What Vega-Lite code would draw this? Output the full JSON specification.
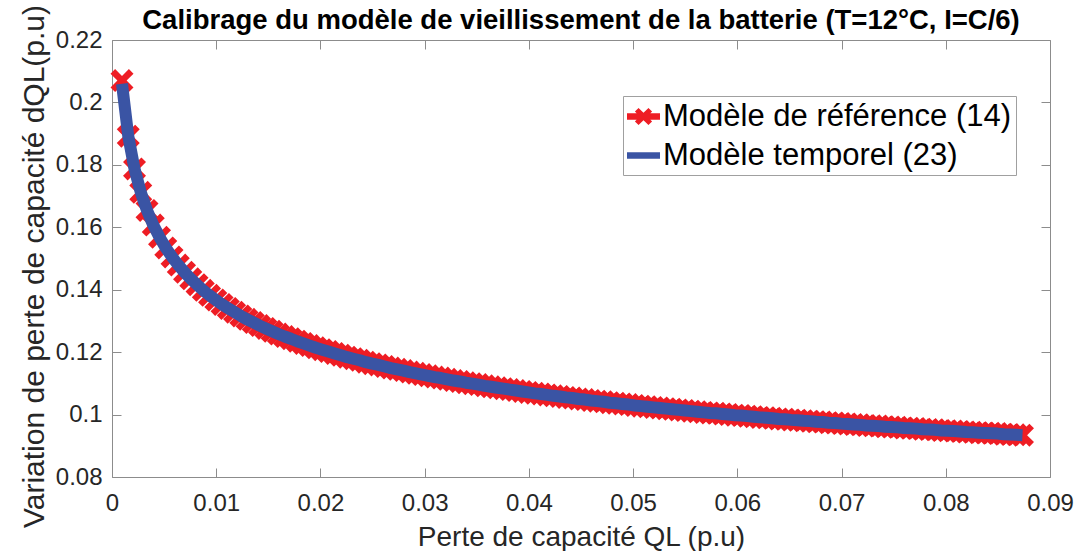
{
  "$schema": "https://vega.github.io/schema/vega-lite/v6.json",
  "width": 938,
  "height": 437,
  "autosize": {"type": "none"},
  "padding": {"left": 112, "top": 40, "right": 28, "bottom": 74},
  "background": "white",
  "config": {"view": {"stroke": null}, "font": "Liberation Sans"},
  "title": {
    "text": "Calibrage du modèle de vieillissement de la batterie (T=12°C, I=C/6)",
    "font": "Liberation Sans",
    "fontWeight": "bold",
    "fontSize": 27.5,
    "color": "#000000",
    "anchor": "middle",
    "baseline": "bottom",
    "offset": 7,
    "dy": 65
  },
  "data": {
    "values": [
      {"q": 0.00096, "ref": 0.2070, "tmp": 0.2060},
      {"q": 0.00156, "ref": 0.1892, "tmp": 0.1892},
      {"q": 0.00216, "ref": 0.1787, "tmp": 0.1787},
      {"q": 0.00276, "ref": 0.1712, "tmp": 0.1712},
      {"q": 0.00336, "ref": 0.1654, "tmp": 0.1654},
      {"q": 0.00396, "ref": 0.1607, "tmp": 0.1607},
      {"q": 0.00456, "ref": 0.1568, "tmp": 0.1568},
      {"q": 0.00516, "ref": 0.1534, "tmp": 0.1534},
      {"q": 0.00576, "ref": 0.1505, "tmp": 0.1505},
      {"q": 0.00636, "ref": 0.1479, "tmp": 0.1479},
      {"q": 0.00696, "ref": 0.1456, "tmp": 0.1456},
      {"q": 0.00756, "ref": 0.1435, "tmp": 0.1435},
      {"q": 0.00816, "ref": 0.1416, "tmp": 0.1416},
      {"q": 0.00876, "ref": 0.1398, "tmp": 0.1398},
      {"q": 0.00936, "ref": 0.1382, "tmp": 0.1382},
      {"q": 0.00996, "ref": 0.1367, "tmp": 0.1367},
      {"q": 0.01056, "ref": 0.1353, "tmp": 0.1353},
      {"q": 0.01116, "ref": 0.1340, "tmp": 0.1340},
      {"q": 0.01176, "ref": 0.1328, "tmp": 0.1328},
      {"q": 0.01236, "ref": 0.1316, "tmp": 0.1316},
      {"q": 0.01296, "ref": 0.1305, "tmp": 0.1305},
      {"q": 0.01356, "ref": 0.1295, "tmp": 0.1295},
      {"q": 0.01416, "ref": 0.1285, "tmp": 0.1285},
      {"q": 0.01476, "ref": 0.1276, "tmp": 0.1276},
      {"q": 0.01536, "ref": 0.1267, "tmp": 0.1267},
      {"q": 0.01596, "ref": 0.1258, "tmp": 0.1258},
      {"q": 0.01656, "ref": 0.1250, "tmp": 0.1250},
      {"q": 0.01716, "ref": 0.1243, "tmp": 0.1243},
      {"q": 0.01776, "ref": 0.1235, "tmp": 0.1235},
      {"q": 0.01836, "ref": 0.1228, "tmp": 0.1228},
      {"q": 0.01896, "ref": 0.1221, "tmp": 0.1221},
      {"q": 0.01956, "ref": 0.1214, "tmp": 0.1214},
      {"q": 0.02016, "ref": 0.1208, "tmp": 0.1208},
      {"q": 0.02076, "ref": 0.1202, "tmp": 0.1202},
      {"q": 0.02136, "ref": 0.1196, "tmp": 0.1196},
      {"q": 0.02196, "ref": 0.1190, "tmp": 0.1190},
      {"q": 0.02256, "ref": 0.1184, "tmp": 0.1184},
      {"q": 0.02316, "ref": 0.1179, "tmp": 0.1179},
      {"q": 0.02376, "ref": 0.1174, "tmp": 0.1174},
      {"q": 0.02436, "ref": 0.1168, "tmp": 0.1168},
      {"q": 0.02496, "ref": 0.1163, "tmp": 0.1163},
      {"q": 0.02556, "ref": 0.1159, "tmp": 0.1159},
      {"q": 0.02616, "ref": 0.1154, "tmp": 0.1154},
      {"q": 0.02676, "ref": 0.1149, "tmp": 0.1149},
      {"q": 0.02736, "ref": 0.1145, "tmp": 0.1145},
      {"q": 0.02796, "ref": 0.1141, "tmp": 0.1141},
      {"q": 0.02856, "ref": 0.1136, "tmp": 0.1136},
      {"q": 0.02916, "ref": 0.1132, "tmp": 0.1132},
      {"q": 0.02976, "ref": 0.1128, "tmp": 0.1128},
      {"q": 0.03036, "ref": 0.1124, "tmp": 0.1124},
      {"q": 0.03096, "ref": 0.1120, "tmp": 0.1120},
      {"q": 0.03156, "ref": 0.1117, "tmp": 0.1117},
      {"q": 0.03216, "ref": 0.1113, "tmp": 0.1113},
      {"q": 0.03276, "ref": 0.1109, "tmp": 0.1109},
      {"q": 0.03336, "ref": 0.1106, "tmp": 0.1106},
      {"q": 0.03396, "ref": 0.1102, "tmp": 0.1102},
      {"q": 0.03456, "ref": 0.1099, "tmp": 0.1099},
      {"q": 0.03516, "ref": 0.1096, "tmp": 0.1096},
      {"q": 0.03576, "ref": 0.1092, "tmp": 0.1092},
      {"q": 0.03636, "ref": 0.1089, "tmp": 0.1089},
      {"q": 0.03696, "ref": 0.1086, "tmp": 0.1086},
      {"q": 0.03756, "ref": 0.1083, "tmp": 0.1083},
      {"q": 0.03816, "ref": 0.1080, "tmp": 0.1080},
      {"q": 0.03876, "ref": 0.1077, "tmp": 0.1077},
      {"q": 0.03936, "ref": 0.1074, "tmp": 0.1074},
      {"q": 0.03996, "ref": 0.1071, "tmp": 0.1071},
      {"q": 0.04056, "ref": 0.1068, "tmp": 0.1068},
      {"q": 0.04116, "ref": 0.1066, "tmp": 0.1066},
      {"q": 0.04176, "ref": 0.1063, "tmp": 0.1063},
      {"q": 0.04236, "ref": 0.1060, "tmp": 0.1060},
      {"q": 0.04296, "ref": 0.1058, "tmp": 0.1058},
      {"q": 0.04356, "ref": 0.1055, "tmp": 0.1055},
      {"q": 0.04416, "ref": 0.1053, "tmp": 0.1053},
      {"q": 0.04476, "ref": 0.1050, "tmp": 0.1050},
      {"q": 0.04536, "ref": 0.1048, "tmp": 0.1048},
      {"q": 0.04596, "ref": 0.1045, "tmp": 0.1045},
      {"q": 0.04656, "ref": 0.1043, "tmp": 0.1043},
      {"q": 0.04716, "ref": 0.1041, "tmp": 0.1041},
      {"q": 0.04776, "ref": 0.1038, "tmp": 0.1038},
      {"q": 0.04836, "ref": 0.1036, "tmp": 0.1036},
      {"q": 0.04896, "ref": 0.1034, "tmp": 0.1034},
      {"q": 0.04956, "ref": 0.1032, "tmp": 0.1032},
      {"q": 0.05016, "ref": 0.1029, "tmp": 0.1029},
      {"q": 0.05076, "ref": 0.1027, "tmp": 0.1027},
      {"q": 0.05136, "ref": 0.1025, "tmp": 0.1025},
      {"q": 0.05196, "ref": 0.1023, "tmp": 0.1023},
      {"q": 0.05256, "ref": 0.1021, "tmp": 0.1021},
      {"q": 0.05316, "ref": 0.1019, "tmp": 0.1019},
      {"q": 0.05376, "ref": 0.1017, "tmp": 0.1017},
      {"q": 0.05436, "ref": 0.1015, "tmp": 0.1015},
      {"q": 0.05496, "ref": 0.1013, "tmp": 0.1013},
      {"q": 0.05556, "ref": 0.1011, "tmp": 0.1011},
      {"q": 0.05616, "ref": 0.1009, "tmp": 0.1009},
      {"q": 0.05676, "ref": 0.1007, "tmp": 0.1007},
      {"q": 0.05736, "ref": 0.1005, "tmp": 0.1005},
      {"q": 0.05796, "ref": 0.1004, "tmp": 0.1004},
      {"q": 0.05856, "ref": 0.1002, "tmp": 0.1002},
      {"q": 0.05916, "ref": 0.1000, "tmp": 0.1000},
      {"q": 0.05976, "ref": 0.0998, "tmp": 0.0998},
      {"q": 0.06036, "ref": 0.0997, "tmp": 0.0997},
      {"q": 0.06096, "ref": 0.0995, "tmp": 0.0995},
      {"q": 0.06156, "ref": 0.0993, "tmp": 0.0993},
      {"q": 0.06216, "ref": 0.0991, "tmp": 0.0991},
      {"q": 0.06276, "ref": 0.0990, "tmp": 0.0990},
      {"q": 0.06336, "ref": 0.0988, "tmp": 0.0988},
      {"q": 0.06396, "ref": 0.0986, "tmp": 0.0986},
      {"q": 0.06456, "ref": 0.0985, "tmp": 0.0985},
      {"q": 0.06516, "ref": 0.0983, "tmp": 0.0983},
      {"q": 0.06576, "ref": 0.0982, "tmp": 0.0982},
      {"q": 0.06636, "ref": 0.0980, "tmp": 0.0980},
      {"q": 0.06696, "ref": 0.0979, "tmp": 0.0979},
      {"q": 0.06756, "ref": 0.0977, "tmp": 0.0977},
      {"q": 0.06816, "ref": 0.0976, "tmp": 0.0976},
      {"q": 0.06876, "ref": 0.0974, "tmp": 0.0974},
      {"q": 0.06936, "ref": 0.0973, "tmp": 0.0973},
      {"q": 0.06996, "ref": 0.0971, "tmp": 0.0971},
      {"q": 0.07056, "ref": 0.0970, "tmp": 0.0970},
      {"q": 0.07116, "ref": 0.0968, "tmp": 0.0968},
      {"q": 0.07176, "ref": 0.0967, "tmp": 0.0967},
      {"q": 0.07236, "ref": 0.0965, "tmp": 0.0965},
      {"q": 0.07296, "ref": 0.0964, "tmp": 0.0964},
      {"q": 0.07356, "ref": 0.0963, "tmp": 0.0963},
      {"q": 0.07416, "ref": 0.0961, "tmp": 0.0961},
      {"q": 0.07476, "ref": 0.0960, "tmp": 0.0960},
      {"q": 0.07536, "ref": 0.0959, "tmp": 0.0959},
      {"q": 0.07596, "ref": 0.0957, "tmp": 0.0957},
      {"q": 0.07656, "ref": 0.0956, "tmp": 0.0956},
      {"q": 0.07716, "ref": 0.0955, "tmp": 0.0955},
      {"q": 0.07776, "ref": 0.0953, "tmp": 0.0953},
      {"q": 0.07836, "ref": 0.0952, "tmp": 0.0952},
      {"q": 0.07896, "ref": 0.0951, "tmp": 0.0951},
      {"q": 0.07956, "ref": 0.0949, "tmp": 0.0949},
      {"q": 0.08016, "ref": 0.0948, "tmp": 0.0948},
      {"q": 0.08076, "ref": 0.0947, "tmp": 0.0947},
      {"q": 0.08136, "ref": 0.0946, "tmp": 0.0946},
      {"q": 0.08196, "ref": 0.0944, "tmp": 0.0944},
      {"q": 0.08256, "ref": 0.0943, "tmp": 0.0943},
      {"q": 0.08316, "ref": 0.0942, "tmp": 0.0942},
      {"q": 0.08376, "ref": 0.0941, "tmp": 0.0941},
      {"q": 0.08436, "ref": 0.0940, "tmp": 0.0940},
      {"q": 0.08496, "ref": 0.0939, "tmp": 0.0939},
      {"q": 0.08556, "ref": 0.0937, "tmp": 0.0937},
      {"q": 0.08616, "ref": 0.0936, "tmp": 0.0936},
      {"q": 0.08676, "ref": 0.0935, "tmp": 0.0935},
      {"q": 0.08736, "ref": 0.0934, "tmp": 0.0934}
    ]
  },
  "resolve": {"axis": {"x": "independent", "y": "independent"}},
  "layer": [
    {
      "mark": {
        "type": "point",
        "shape": "M-1,-0.6L-0.6,-1L0,-0.4L0.6,-1L1,-0.6L0.4,0L1,0.6L0.6,1L0,0.4L-0.6,1L-1,0.6L-0.4,0Z",
        "filled": true,
        "size": 529,
        "opacity": 1,
        "strokeWidth": 0
      },
      "encoding": {
        "x": {
          "field": "q",
          "type": "quantitative",
          "scale": {"domain": [0, 0.09], "nice": false, "zero": false},
          "axis": {
            "orient": "bottom",
            "values": [0, 0.01, 0.02, 0.03, 0.04, 0.05, 0.06, 0.07, 0.08, 0.09],
            "format": "~g",
            "grid": false,
            "tickSize": -9,
            "labelPadding": 23,
            "labelFlush": false,
            "labelOverlap": false,
            "labelFontSize": 24,
            "labelColor": "#262626",
            "domainColor": "#8c8c8c",
            "tickColor": "#8c8c8c",
            "title": "Perte de capacité QL (p.u)",
            "titleFontSize": 28,
            "titleFontWeight": "normal",
            "titleColor": "#262626",
            "titlePadding": 8
          }
        },
        "y": {
          "field": "ref",
          "type": "quantitative",
          "scale": {"domain": [0.08, 0.22], "nice": false, "zero": false},
          "axis": {
            "orient": "left",
            "values": [0.08, 0.1, 0.12, 0.14, 0.16, 0.18, 0.2, 0.22],
            "format": "~g",
            "grid": false,
            "tickSize": -9,
            "labelPadding": 19,
            "labelFlush": false,
            "labelOverlap": false,
            "labelFontSize": 24,
            "labelColor": "#262626",
            "domainColor": "#8c8c8c",
            "tickColor": "#8c8c8c",
            "title": "Variation de perte de capacité dQL(p.u)",
            "titleFontSize": 30,
            "titleFontWeight": "normal",
            "titleColor": "#262626",
            "titlePadding": 6,
            "titleY": 226
          }
        },
        "color": {
          "datum": "Modèle de référence (14)",
          "type": "nominal",
          "scale": {
            "domain": ["Modèle de référence (14)", "Modèle temporel (23)"],
            "range": ["#EE1D24", "#3A54A4"]
          },
          "legend": {
            "title": null,
            "orient": "none",
            "legendX": 511,
            "legendY": 56,
            "direction": "vertical",
            "fillColor": "#ffffff",
            "strokeColor": "#a0a0a0",
            "padding": 4,
            "rowPadding": 7,
            "labelOffset": 3,
            "labelFont": "Liberation Sans",
            "labelFontSize": 31,
            "labelColor": "#000000",
            "labelLimit": 0,
            "symbolSize": 1089,
            "encoding": {
              "symbols": {
                "shape": {
                  "condition": {"test": "datum.value === 'Modèle temporel (23)'", "value": "M-1,-0.19L1,-0.19L1,0.19L-1,0.19Z"},
                  "value": "M-1,-0.2L1,-0.2L1,0.2L-1,0.2Z M-0.52,-0.3L-0.3,-0.52L0,-0.22L0.3,-0.52L0.52,-0.3L0.22,0L0.52,0.3L0.3,0.52L0,0.22L-0.3,0.52L-0.52,0.3L-0.22,0Z"
                },
                "fill": {
                  "condition": {"test": "datum.value === 'Modèle temporel (23)'", "value": "#3A54A4"},
                  "value": "#EE1D24"
                },
                "stroke": {"value": "transparent"},
                "strokeWidth": {"value": 0},
                "opacity": {"value": 1},
                "size": {"value": 1089}
              }
            }
          }
        }
      }
    },
    {
      "mark": {"type": "line", "strokeWidth": 12, "strokeCap": "butt", "strokeJoin": "round"},
      "encoding": {
        "x": {
          "field": "q",
          "type": "quantitative",
          "scale": {"domain": [0, 0.09], "nice": false, "zero": false},
          "axis": {
            "orient": "top",
            "values": [0, 0.01, 0.02, 0.03, 0.04, 0.05, 0.06, 0.07, 0.08, 0.09],
            "labels": false,
            "grid": false,
            "tickSize": -9,
            "domainColor": "#8c8c8c",
            "tickColor": "#8c8c8c",
            "title": null
          }
        },
        "y": {
          "field": "tmp",
          "type": "quantitative",
          "scale": {"domain": [0.08, 0.22], "nice": false, "zero": false},
          "axis": {
            "orient": "right",
            "values": [0.08, 0.1, 0.12, 0.14, 0.16, 0.18, 0.2, 0.22],
            "labels": false,
            "grid": false,
            "tickSize": -9,
            "domainColor": "#8c8c8c",
            "tickColor": "#8c8c8c",
            "title": null
          }
        },
        "color": {"datum": "Modèle temporel (23)", "type": "nominal", "legend": null}
      }
    }
  ]
}
